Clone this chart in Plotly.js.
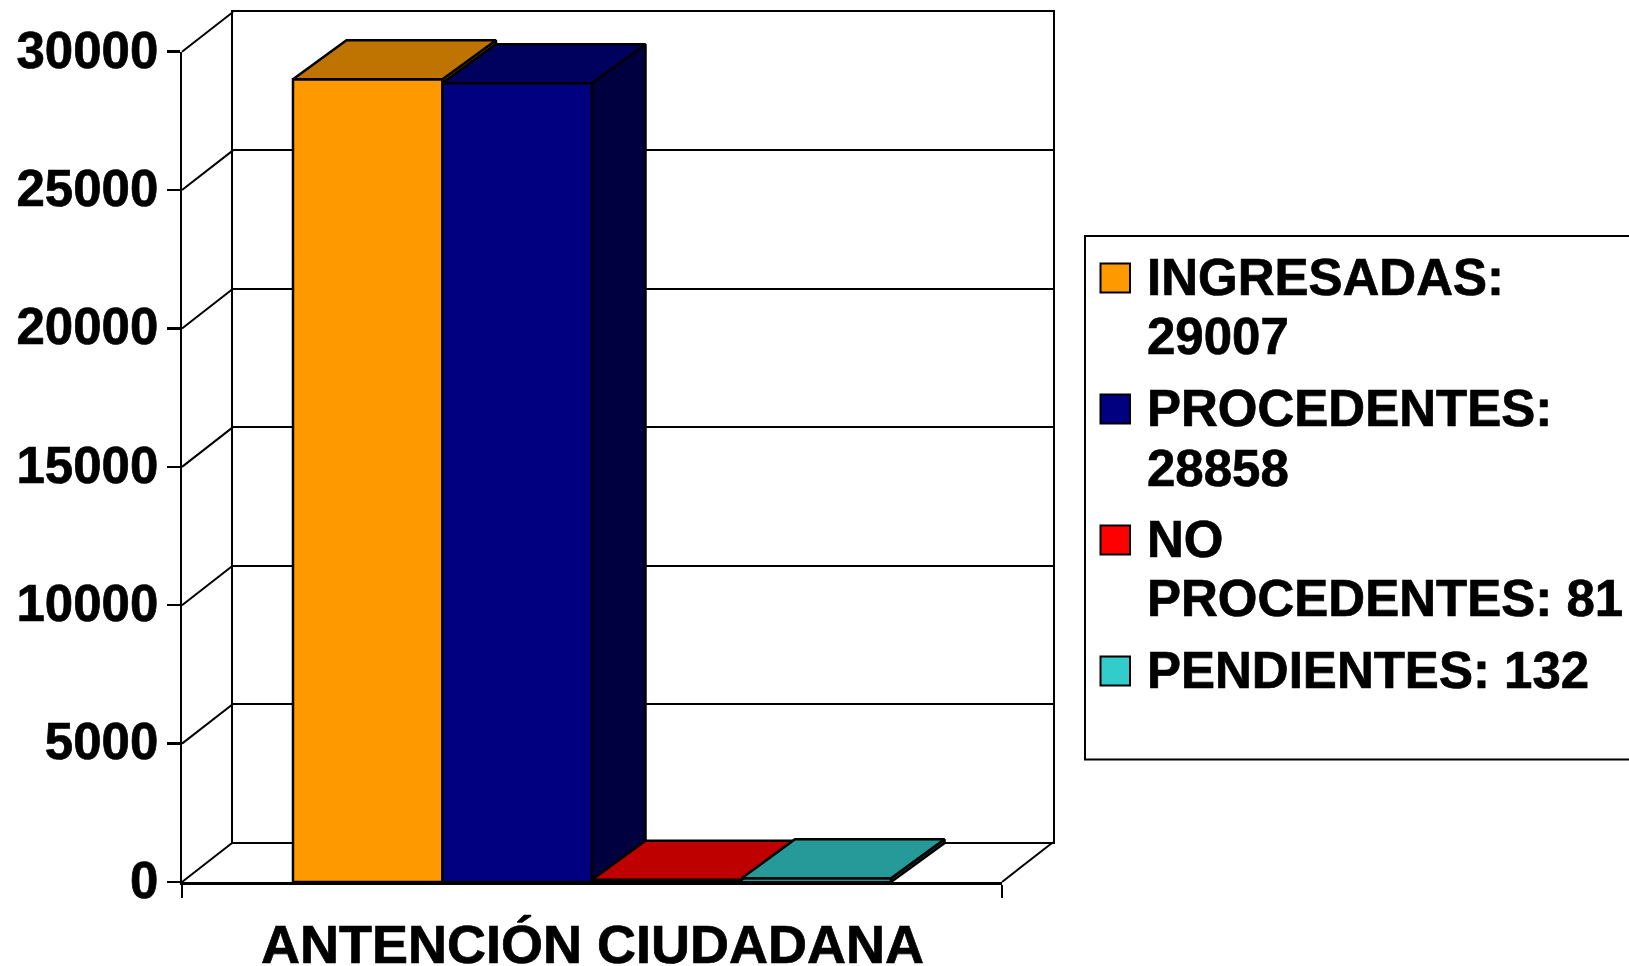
<!DOCTYPE html>
<html>
<head>
<meta charset="utf-8">
<script src="https://cdn.plot.ly/plotly-3.0.1.min.js"></script>
<style>
html,body{margin:0;padding:0;background:#fff}
#chart{width:1629px;height:966px}
#chart text{stroke:#000;stroke-width:0.7px}
</style>
</head>
<body>
<div id="chart"></div>
<script>
// ---- data ----
const categoryTitle = "ANTENCIÓN CIUDADANA";
const seriesNames = ["INGRESADAS", "PROCEDENTES", "NO PROCEDENTES", "PENDIENTES"];
const seriesValues = [29007, 28858, 81, 132];
const yTicks = [0, 5000, 10000, 15000, 20000, 25000, 30000];
const legendLines = [
  ["INGRESADAS:", "29007"],
  ["PROCEDENTES:", "28858"],
  ["NO", "PROCEDENTES: 81"],
  ["PENDIENTES: 132"]
];

// ---- styles ----
const frontColors = ["#FF9900", "#000080", "#FF0000", "#33CCCC"];
const topColors   = ["#BF7300", "#00005F", "#BF0000", "#269999"];
const sideColors  = ["#804D00", "#000040", "#800000", "#1A6666"];
const W = 1629, H = 966;
const FONT = "Liberation Sans, Arial, sans-serif";
const front = {l: 182, r: 1002, t: 51.7, b: 882};
const back  = {l: 233, r: 1052.5, t: 12, b: 842.3};
const box   = {l: 170, r: 1065, t: 2, b: 892};   // invisible axes for the extruded faces
const yUnitPerPx = 30000 / (front.b - front.t);
const xUnitPerPx = 1 / (front.r - front.l);
const bargap = 0.2707;
const barW = (1 - bargap) / seriesValues.length;
const barDepthX = 53.5 * xUnitPerPx, barDepthY = 39 * yUnitPerPx;
const wallDepthX = (back.l - front.l) * xUnitPerPx, wallDepthY = (front.b - back.b) * yUnitPerPx;
const FACE_X = "x3", FACE_Y = "y3";

const traces = [];

// invisible anchor so the back-wall axes exist
traces.push({type: "scatter", mode: "none", xaxis: "x", yaxis: "y", x: [0, 1], y: [0, 30000], showlegend: false, hoverinfo: "skip"});

// front faces: real bars on the front axes
seriesNames.forEach((name, i) => traces.push({
  type: "bar", xaxis: "x2", yaxis: "y2", name: name, x: [0], y: [seriesValues[i]],
  marker: {color: frontColors[i], line: {color: "#000", width: 2.5}}, showlegend: false, hoverinfo: "skip"
}));

// side wall and floor diagonals (left edge and right floor edge of the box)
yTicks.forEach(t => traces.push({
  type: "scatter", mode: "lines", xaxis: FACE_X, yaxis: FACE_Y, showlegend: false, hoverinfo: "skip",
  x: [-0.5, -0.5 + wallDepthX], y: [t, t + wallDepthY], line: {color: "#000", width: 2}
}));
traces.push({
  type: "scatter", mode: "lines", xaxis: FACE_X, yaxis: FACE_Y, showlegend: false, hoverinfo: "skip",
  x: [0.5, 0.5 + wallDepthX], y: [0, wallDepthY], line: {color: "#000", width: 2}
});

// extruded side and top faces, derived from the same values
seriesValues.forEach((v, i) => {
  const x0 = -0.5 + bargap / 2 + i * barW, x1 = x0 + barW;
  const next = i + 1 < seriesValues.length ? seriesValues[i + 1] : 0;
  const face = (xs, ys, color) => traces.push({
    type: "scatter", mode: "lines", xaxis: FACE_X, yaxis: FACE_Y, showlegend: false, hoverinfo: "skip",
    x: xs, y: ys, fill: "toself", fillcolor: color, line: {color: "#000", width: 2.5}
  });
  if (v > next) {
    face([x1, x1 + barDepthX, x1 + barDepthX, x1, x1], [next, next + barDepthY, v + barDepthY, v, next], sideColors[i]);
  }
  face([x0, x1, x1 + barDepthX, x0 + barDepthX, x0], [v, v, v + barDepthY, v + barDepthY, v], topColors[i]);
});

// legend box, swatches and lines
const px = p => p / W, py = p => 1 - p / H;
const shapes = [{
  type: "rect", xref: "paper", yref: "paper", x0: px(1085), x1: px(1700), y0: py(236), y1: py(759.5),
  line: {color: "#000", width: 2}, fillcolor: "#fff"
}];
const annotations = [];
const swatchY = [278, 409, 540, 671];
const lineY = [[277.4, 336.6], [408.3, 468.6], [539.2, 598.4], [670]];
legendLines.forEach((lines, i) => {
  shapes.push({
    type: "rect", xref: "paper", yref: "paper", x0: px(1100.5), x1: px(1130), y0: py(swatchY[i] - 14.5), y1: py(swatchY[i] + 14.5),
    line: {color: "#000", width: 2}, fillcolor: frontColors[i]
  });
  lines.forEach((txt, j) => annotations.push({
    xref: "paper", yref: "paper", x: px(1144.5), y: py(lineY[i][j]), xanchor: "left", yanchor: "middle",
    text: txt, showarrow: false, font: {family: FONT, size: 51, weight: 700, color: "#000"}
  }));
});
// category label, centred under the front plane
annotations.push({
  xref: "x2", yref: "paper", x: 0, y: py(943.5), xanchor: "center", yanchor: "middle",
  text: categoryTitle, showarrow: false, font: {family: FONT, size: 54, weight: 700, color: "#000"}
});

const hidden = {showgrid: false, zeroline: false, showline: false, ticks: "", showticklabels: false};
const layout = {
  width: W, height: H, margin: {l: 0, r: 0, t: 0, b: 0},
  paper_bgcolor: "#fff", plot_bgcolor: "rgba(0,0,0,0)", showlegend: false,
  barmode: "group", bargap: bargap, bargroupgap: 0,
  // back wall
  xaxis: {domain: [px(back.l), px(back.r)], range: [0, 1], anchor: "y", showgrid: false, zeroline: false,
    showline: true, mirror: true, linecolor: "#000", linewidth: 2, ticks: "", showticklabels: false},
  yaxis: {domain: [py(back.b), py(back.t)], range: [0, 30000], anchor: "x", tickvals: yTicks, showgrid: true,
    gridcolor: "#000", gridwidth: 2, zeroline: false, showline: true, mirror: true, linecolor: "#000", linewidth: 2,
    ticks: "", showticklabels: false},
  // front plane
  xaxis2: {domain: [px(front.l), px(front.r)], range: [-0.5, 0.5], anchor: "y2", showgrid: false, zeroline: false,
    showline: true, linecolor: "#000", linewidth: 3, ticks: "outside", ticklen: 13, tickwidth: 2, tickcolor: "#000",
    tickvals: [-0.5, 0.5], showticklabels: false},
  yaxis2: {domain: [py(front.b), py(front.t)], range: [0, 30000], anchor: "x2", showgrid: false, zeroline: false,
    showline: true, linecolor: "#000", linewidth: 2.5, ticks: "outside", ticklen: 13, tickwidth: 2.5, tickcolor: "#000",
    tickvals: yTicks, ticktext: yTicks.map(String), ticklabelshift: -2, ticklabelstandoff: -2,
    tickfont: {family: FONT, size: 51, weight: 700, color: "#000"}},
  // faces: same scale as the front plane, wider range
  xaxis3: Object.assign({domain: [px(box.l), px(box.r)], anchor: "y3",
    range: [-0.5 + (box.l - front.l) * xUnitPerPx, -0.5 + (box.r - front.l) * xUnitPerPx]}, hidden),
  yaxis3: Object.assign({domain: [py(box.b), py(box.t)], anchor: "x3",
    range: [(front.b - box.b) * yUnitPerPx, (front.b - box.t) * yUnitPerPx]}, hidden),
  shapes: shapes, annotations: annotations
};
Plotly.newPlot("chart", traces, layout, {displayModeBar: false, staticPlot: true});
</script>
</body>
</html>
